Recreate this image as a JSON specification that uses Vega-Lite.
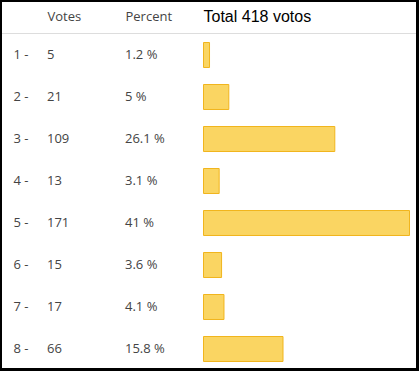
{
  "$schema": "https://vega.github.io/schema/vega-lite/v6.json",
  "width": 419,
  "height": 371,
  "autosize": {"type": "fit", "contains": "padding"},
  "padding": {"left": 2, "top": 2, "right": 3, "bottom": 3},
  "background": "#000000",
  "data": {
    "values": [
      {"option": 1, "votes": 5, "percent": 1.2},
      {"option": 2, "votes": 21, "percent": 5},
      {"option": 3, "votes": 109, "percent": 26.1},
      {"option": 4, "votes": 13, "percent": 3.1},
      {"option": 5, "votes": 171, "percent": 41},
      {"option": 6, "votes": 15, "percent": 3.6},
      {"option": 7, "votes": 17, "percent": 4.1},
      {"option": 8, "votes": 66, "percent": 15.8}
    ]
  },
  "encoding": {
    "y": {
      "field": "option",
      "type": "ordinal",
      "scale": {"type": "band", "range": [32, 368], "paddingInner": 0.405, "paddingOuter": 0.2025},
      "axis": {
        "orient": "left",
        "title": null,
        "domain": false,
        "ticks": false,
        "tickSize": 0,
        "grid": false,
        "labelAlign": "left",
        "labelBaseline": "middle",
        "labelPadding": -11,
        "labelExpr": "datum.label + ' -'",
        "labelFont": "Open Sans",
        "labelFontSize": 13,
        "labelColor": "#444444",
        "labelOverlap": false
      }
    }
  },
  "layer": [
    {
      "data": {"values": [{"option": 1}]},
      "mark": {"type": "rule", "color": "#dddddd", "strokeWidth": 1, "clip": true},
      "encoding": {
        "y": {"field": "option", "type": "ordinal", "bandPosition": -0.36}
      }
    },
    {
      "transform": [
        {"calculate": "datum.percent + ' %'", "as": "pctText"},
        {"fold": ["votes", "pctText"], "as": ["col", "txt"]}
      ],
      "mark": {"type": "text", "align": "left", "baseline": "middle", "font": "Open Sans", "fontSize": 13, "color": "#444444"},
      "encoding": {
        "x": {
          "field": "col",
          "type": "nominal",
          "scale": {"type": "point", "domain": ["votes", "pctText", "total"], "range": [45, 201], "padding": 0},
          "axis": {
            "orient": "top",
            "offset": -31,
            "title": null,
            "domain": false,
            "ticks": false,
            "tickSize": 0,
            "grid": false,
            "labelAngle": 0,
            "labelPadding": 16.5,
            "labelAlign": "left",
            "labelBaseline": "middle",
            "labelOverlap": false,
            "labelExpr": "datum.value == 'votes' ? 'Votes' : datum.value == 'pctText' ? 'Percent' : 'Total 418 votos'",
            "labelFont": {"condition": {"test": "datum.value == 'total'", "value": "Liberation Sans"}, "value": "Open Sans"},
            "labelFontSize": {"condition": {"test": "datum.value == 'total'", "value": 16}, "value": 13},
            "labelColor": {"condition": {"test": "datum.value == 'total'", "value": "#000000"}, "value": "#444444"}
          }
        },
        "text": {"field": "txt", "type": "nominal"}
      }
    },
    {
      "mark": {"type": "bar", "fill": "#fad562", "stroke": "#f1b51d", "strokeWidth": 1},
      "encoding": {
        "x": {
          "field": "votes",
          "type": "quantitative",
          "scale": {"domain": [0, 171], "range": [201.5, 407.5], "nice": false, "zero": true},
          "axis": null
        }
      }
    }
  ],
  "resolve": {"scale": {"x": "independent"}, "axis": {"x": "independent"}},
  "config": {"view": {"stroke": null, "fill": "#ffffff"}}
}
